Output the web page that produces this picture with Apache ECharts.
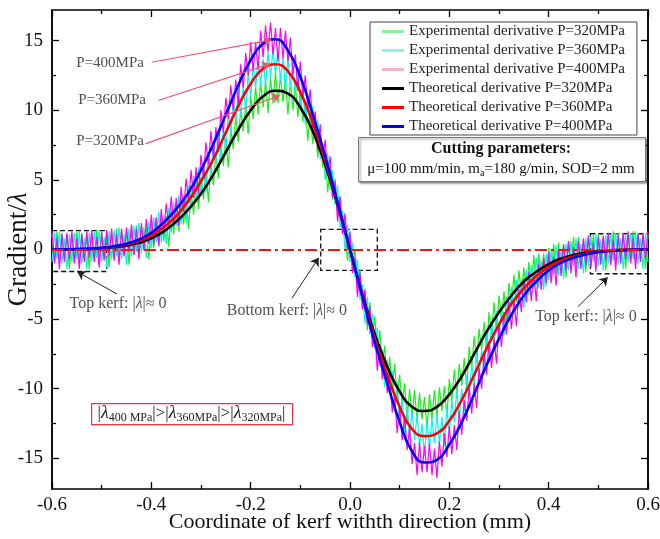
<!DOCTYPE html>
<html>
<head>
<meta charset="utf-8">
<script src="https://cdn.jsdelivr.net/npm/echarts@6/dist/echarts.min.js"></script>
<style>
html, body { margin: 0; padding: 0; background: #fff; }
#main { width: 660px; height: 539px; }
</style>
</head>
<body>
<div id="main"></div>
<script>
// theoretical derivative, sampled along the kerf width (mm)
var xTheory = [-0.6,-0.575,-0.55,-0.525,-0.5,-0.475,-0.45,-0.425,-0.4,-0.375,-0.35,-0.325,-0.3,-0.275,-0.25,-0.225,-0.2,-0.175,-0.15,-0.125,-0.1,-0.075,-0.05,-0.025,0,
  0.025,0.05,0.075,0.1,0.125,0.15,0.175,0.2,0.225,0.25,0.275,0.3,0.325,0.35,0.375,0.4,0.425,0.45,0.475,0.5,0.525,0.55,0.575,0.6]
var theory320 = [0,0.01,0.02,0.04,0.08,0.16,0.28,0.48,0.8,1.3,2.0,2.9,4.0,5.4,7.0,8.6,10.0,11.0,11.4,11.2,10.2,8.5,6.1,3.2,0,
  -3.2,-6.1,-8.4,-10.2,-11.3,-11.6,-11.3,-10.4,-9.1,-7.5,-5.9,-4.5,-3.3,-2.3,-1.6,-1.05,-0.65,-0.4,-0.22,-0.12,-0.06,-0.03,-0.01,0]
var theory360 = [0,0.01,0.02,0.05,0.1,0.2,0.35,0.6,1.0,1.6,2.4,3.5,4.9,6.5,8.4,10.3,11.9,13.0,13.3,12.8,11.3,9.1,6.4,3.3,0,
  -3.3,-6.4,-9.0,-11.3,-12.9,-13.4,-13.2,-12.3,-10.8,-9.0,-7.1,-5.4,-3.9,-2.8,-1.9,-1.25,-0.8,-0.5,-0.3,-0.16,-0.08,-0.04,-0.02,-0.01]
var theory400 = [0,0.01,0.03,0.06,0.12,0.24,0.42,0.72,1.2,1.95,2.9,4.1,5.7,7.6,9.7,11.8,13.6,14.8,15.1,14.3,12.4,9.7,6.7,3.4,0,
  -3.4,-6.7,-9.6,-12.4,-14.5,-15.3,-15.1,-14.0,-12.4,-10.4,-8.3,-6.4,-4.7,-3.3,-2.3,-1.5,-0.95,-0.6,-0.35,-0.2,-0.1,-0.05,-0.02,-0.01]

// experimental derivative (noisy measurements)
var xExp = [-0.6,-0.595,-0.59,-0.585,-0.58,-0.575,-0.57,-0.565,-0.56,-0.555,-0.55,-0.545,-0.54,-0.535,-0.53,-0.525,-0.52,-0.515,-0.51,-0.505,
  -0.5,-0.495,-0.49,-0.485,-0.48,-0.475,-0.47,-0.465,-0.46,-0.455,-0.45,-0.445,-0.44,-0.435,-0.43,-0.425,-0.42,-0.415,-0.41,-0.405,
  -0.4,-0.395,-0.39,-0.385,-0.38,-0.375,-0.37,-0.365,-0.36,-0.355,-0.35,-0.345,-0.34,-0.335,-0.33,-0.325,-0.32,-0.315,-0.31,-0.305,
  -0.3,-0.295,-0.29,-0.285,-0.28,-0.275,-0.27,-0.265,-0.26,-0.255,-0.25,-0.245,-0.24,-0.235,-0.23,-0.225,-0.22,-0.215,-0.21,-0.205,
  -0.2,-0.195,-0.19,-0.185,-0.18,-0.175,-0.17,-0.165,-0.16,-0.155,-0.15,-0.145,-0.14,-0.135,-0.13,-0.125,-0.12,-0.115,-0.11,-0.105,
  -0.1,-0.095,-0.09,-0.085,-0.08,-0.075,-0.07,-0.065,-0.06,-0.055,-0.05,-0.045,-0.04,-0.035,-0.03,-0.025,-0.02,-0.015,-0.01,-0.005,
  0,0.005,0.01,0.015,0.02,0.025,0.03,0.035,0.04,0.045,0.05,0.055,0.06,0.065,0.07,0.075,0.08,0.085,0.09,0.095,
  0.1,0.105,0.11,0.115,0.12,0.125,0.13,0.135,0.14,0.145,0.15,0.155,0.16,0.165,0.17,0.175,0.18,0.185,0.19,0.195,
  0.2,0.205,0.21,0.215,0.22,0.225,0.23,0.235,0.24,0.245,0.25,0.255,0.26,0.265,0.27,0.275,0.28,0.285,0.29,0.295,
  0.3,0.305,0.31,0.315,0.32,0.325,0.33,0.335,0.34,0.345,0.35,0.355,0.36,0.365,0.37,0.375,0.38,0.385,0.39,0.395,
  0.4,0.405,0.41,0.415,0.42,0.425,0.43,0.435,0.44,0.445,0.45,0.455,0.46,0.465,0.47,0.475,0.48,0.485,0.49,0.495,
  0.5,0.505,0.51,0.515,0.52,0.525,0.53,0.535,0.54,0.545,0.55,0.555,0.56,0.565,0.57,0.575,0.58,0.585,0.59,0.595,
  0.6]
var exp320 = [1.1,-0.8,1.3,-0.9,1.2,-0.7,1.0,-1.4,1.1,-0.8,1.3,-0.9,1.2,-0.7,1.0,-1.4,1.2,-0.7,1.4,-0.8,
  1.3,-0.6,1.1,-1.3,1.2,-0.6,1.5,-0.7,1.4,-0.4,1.3,-1.1,1.5,-0.4,1.7,-0.4,1.7,-0.1,1.7,-0.7,
  1.9,0.1,2.3,0.2,2.4,0.6,2.4,0.2,2.8,1.1,3.3,1.3,3.6,1.8,3.7,1.5,4.2,2.5,4.9,2.9,
  5.2,3.6,5.6,3.4,6.2,4.6,7.0,5.1,7.6,6.0,8.0,5.9,8.7,7.2,9.6,7.7,10.1,8.5,10.4,8.3,
  11.1,9.4,11.7,9.7,12.0,10.2,12.1,9.8,12.3,10.5,12.7,10.5,12.5,10.6,12.2,9.7,12.1,10.0,11.9,9.5,
  11.4,9.2,10.5,7.8,9.9,7.6,9.3,6.6,8.3,5.9,7.1,4.1,6.0,3.6,5.1,2.3,3.8,1.2,2.3,-0.8,
  1.1,-1.4,0.0,-2.8,-1.4,-3.9,-2.8,-5.8,-3.8,-6.3,-4.8,-7.5,-5.8,-8.2,-6.9,-9.8,-7.7,-9.9,-8.2,-10.7,
  -9.0,-11.1,-9.6,-12.3,-10.0,-12.0,-10.1,-12.3,-10.3,-12.2,-10.6,-12.9,-10.4,-12.2,-10.1,-12.1,-9.9,-11.6,-9.8,-12.0,
  -9.3,-10.9,-8.6,-10.5,-8.2,-9.8,-7.8,-9.9,-7.0,-8.6,-6.2,-8.1,-5.7,-7.2,-5.2,-7.3,-4.5,-6.1,-3.8,-5.7,
  -3.3,-5.0,-3.0,-5.2,-2.4,-4.1,-1.8,-3.8,-1.5,-3.2,-1.3,-3.6,-0.9,-2.7,-0.4,-2.5,-0.3,-2.1,-0.3,-2.6,
  0.1,-1.8,0.4,-1.7,0.5,-1.4,0.4,-2.0,0.6,-1.3,0.9,-1.3,0.9,-1.0,0.7,-1.6,0.9,-1.0,1.1,-1.0,
  1.1,-0.8,0.9,-1.5,1.0,-0.9,1.3,-0.9,1.2,-0.7,1.0,-1.4,1.1,-0.8,1.3,-0.9,1.2,-0.7,1.0,-1.4,
  1.1]
var exp360 = [-0.9,1.2,-0.7,1.3,-1.0,0.8,-1.4,1.1,-0.9,1.2,-0.7,1.3,-1.0,0.8,-1.4,1.2,-0.8,1.3,-0.6,1.4,
  -0.9,0.9,-1.3,1.3,-0.7,1.4,-0.5,1.6,-0.7,1.1,-1.1,1.5,-0.5,1.7,-0.2,1.9,-0.3,1.6,-0.6,2.0,
  0.1,2.3,0.5,2.7,0.5,2.4,0.4,3.0,1.2,3.4,1.7,3.9,1.8,3.9,1.9,4.6,2.9,5.3,3.6,5.9,
  3.9,6.0,4.1,7.0,5.3,7.7,6.2,8.6,6.6,8.8,7.0,9.9,8.3,10.7,9.2,11.6,9.6,11.7,9.9,12.7,
  11.0,13.3,11.6,13.9,11.8,13.7,11.7,14.2,12.3,14.4,12.6,14.5,12.1,13.8,11.5,13.8,11.6,13.4,11.2,12.9,
  10.3,11.7,9.0,11.1,8.6,10.3,7.9,9.3,6.5,7.7,5.0,6.9,4.3,5.7,3.2,4.6,1.6,2.8,-0.1,1.8,
  -0.9,0.5,-2.0,-0.7,-3.6,-2.5,-5.3,-3.4,-6.1,-4.6,-7.1,-5.6,-8.4,-7.2,-9.9,-7.9,-10.4,-8.7,-11.1,-9.5,
  -12.3,-10.8,-13.3,-11.2,-13.5,-11.6,-13.7,-11.8,-14.2,-12.5,-14.8,-12.3,-14.2,-12.1,-13.9,-11.8,-14.0,-12.0,-14.1,-11.4,
  -13.2,-10.8,-12.4,-10.1,-12.1,-10.0,-11.8,-9.0,-10.6,-8.2,-9.7,-7.3,-9.2,-7.1,-8.9,-6.0,-7.7,-5.2,-6.8,-4.4,
  -6.4,-4.3,-6.2,-3.4,-5.1,-2.7,-4.4,-2.2,-4.2,-2.2,-4.2,-1.5,-3.3,-1.1,-2.8,-0.6,-2.8,-0.8,-2.9,-0.3,
  -2.2,0.0,-1.8,0.3,-1.9,0.0,-2.1,0.4,-1.5,0.6,-1.2,0.8,-1.4,0.4,-1.7,0.8,-1.2,1.0,-0.9,1.1,
  -1.2,0.7,-1.5,1.0,-1.0,1.1,-0.8,1.2,-1.1,0.8,-1.4,1.1,-0.9,1.2,-0.7,1.3,-1.0,0.8,-1.4,1.1,
  -0.9]
var exp400 = [1.3,-1.0,0.8,-1.4,1.1,-0.9,1.2,-0.7,1.3,-1.0,0.8,-1.4,1.1,-0.9,1.3,-0.6,1.4,-0.9,0.9,-1.3,
  1.2,-0.8,1.4,-0.5,1.5,-0.8,1.1,-1.1,1.5,-0.5,1.6,-0.2,1.8,-0.4,1.5,-0.7,1.9,0.0,2.2,0.4,
  2.5,0.4,2.3,0.3,2.9,1.1,3.3,1.6,3.8,1.7,3.7,1.7,4.5,2.7,5.1,3.4,5.7,3.7,5.9,4.0,
  6.8,5.2,7.7,6.1,8.5,6.6,8.8,7.0,10.0,8.4,10.9,9.4,11.8,10.0,12.2,10.4,13.3,11.6,14.1,12.5,
  14.9,12.8,14.9,12.9,15.7,13.8,16.1,14.2,16.3,14.0,15.9,13.5,15.9,13.7,15.7,13.5,15.2,12.5,14.0,11.4,
  13.5,11.0,12.5,10.1,11.5,8.7,9.9,7.1,9.0,6.4,7.9,5.3,6.7,3.7,4.9,2.0,3.8,1.1,2.6,0.0,
  1.3,-1.7,-0.6,-3.4,-1.6,-4.3,-2.9,-5.4,-4.1,-7.0,-5.9,-8.7,-6.8,-9.3,-7.8,-10.3,-8.9,-11.7,-10.5,-13.2,
  -11.3,-13.7,-12.0,-14.4,-12.8,-15.4,-13.9,-16.2,-13.9,-16.0,-14.1,-16.0,-13.9,-16.2,-14.3,-16.4,-13.8,-15.6,-13.2,-14.9,
  -12.7,-14.7,-12.6,-14.4,-11.6,-13.3,-10.8,-12.3,-9.9,-11.8,-9.6,-11.4,-8.5,-10.0,-7.5,-9.0,-6.6,-8.5,-6.4,-8.2,
  -5.3,-7.0,-4.5,-6.1,-3.7,-5.7,-3.6,-5.5,-2.8,-4.5,-2.1,-3.8,-1.6,-3.7,-1.7,-3.7,-1.0,-2.9,-0.6,-2.4,
  -0.2,-2.4,-0.5,-2.6,0.0,-1.9,0.3,-1.5,0.6,-1.7,0.2,-2.0,0.6,-1.4,0.8,-1.1,1.0,-1.3,0.5,-1.6,
  0.9,-1.1,1.0,-0.8,1.2,-1.1,0.7,-1.5,1.0,-1.0,1.2,-0.7,1.3,-1.0,0.8,-1.4,1.1,-0.9,1.2,-0.7,
  1.3]

var yLabelValues = [-15, -10, -5, 0, 5, 10, 15]
var yMinorValues = [-12.5, -7.5, -2.5, 2.5, 7.5, 12.5]

// text notes in data coordinates
var noteX = [-0.467, -0.127, 0.475, -0.483, -0.479, -0.483]
var noteY = [-3.9, -4.4, -4.8, 13.42, 10.7, 7.82]
var noteText = [
  '{n|Top kerf: |}{i|λ}{n||≈ 0}',
  '{n|Bottom kerf: |}{i|λ}{n||≈ 0}',
  '{n|Top kerf:: |}{i|λ}{n||≈ 0}',
  '{p|P=400MPa}',
  '{p|P=360MPa}',
  '{p|P=320MPa}'
]
// black arrows from the notes to the kerf boxes  [x1, y1, x2, y2]
var kerfArrows = [[-0.469, -3.2, -0.549, -1.6], [-0.117, -3.5, -0.063, -0.6], [0.459, -4.1, 0.519, -2.0]]
// pink pointers from the P labels to the peaks
var peakPointers = [[-0.399, 13.45, -0.158, 15.05], [-0.386, 10.7, -0.161, 13.33], [-0.412, 7.59, -0.141, 11.06]]
// dashed boxes [x1, y1, x2, y2]
var kerfBoxes = [[-0.6, 1.36, -0.49, -1.58], [-0.059, 1.44, 0.055, -1.5], [0.484, 1.13, 0.6, -1.74]]

var serif = 'Liberation Serif, Times New Roman, serif'

function pairs (xs, ys) {
  return xs.map(function (x, i) { return [x, ys[i]] })
}

function curve (name, xs, ys, color, width, smooth) {
  return {
    name: name,
    type: 'line',
    data: pairs(xs, ys),
    symbol: 'none',
    smooth: smooth,
    lineStyle: { color: color, width: width },
    itemStyle: { color: color },
    emphasis: { disabled: true }
  }
}

var names = [
  'Experimental derivative P=320MPa',
  'Experimental derivative P=360MPa',
  'Experimental derivative P=400MPa',
  'Theoretical derivative P=320MPa',
  'Theoretical derivative P=360MPa',
  'Theoretical derivative P=400MPa'
]
var legendColors = ['#86f29a', '#8ff3ea', '#f9b3c3', '#000000', '#ff0000', '#0000ff']

var markLines = [{ yAxis: 0, lineStyle: { color: '#ff1010', width: 2, type: [12, 4, 3, 4] } }]
kerfArrows.forEach(function (a) {
  markLines.push([
    { coord: [a[0], a[1]], lineStyle: { color: '#222', width: 1, type: 'solid' } },
    { coord: [a[2], a[3]], symbol: 'arrow' }
  ])
})
peakPointers.forEach(function (a, i) {
  markLines.push([
    { coord: [a[0], a[1]], lineStyle: { color: '#f2556c', width: 1.2, type: 'solid', curveness: [0.06, 0.12, -0.12][i] } },
    { coord: [a[2], a[3]], symbol: 'arrow' }
  ])
})

var boxAreas = kerfBoxes.map(function (b) {
  return [{ coord: [b[0], b[1]] }, { coord: [b[2], b[3]] }]
})

function xAxisDef (pos, showLabel) {
  return {
    type: 'value', position: pos, min: -0.6, max: 0.6, interval: 0.2,
    name: showLabel ? 'Coordinate of kerf withth direction (mm)' : '',
    nameLocation: 'middle', nameGap: 22, nameMoveOverlap: false,
    nameTextStyle: { fontFamily: serif, fontSize: 22, color: '#111' },
    axisLine: { onZero: false, lineStyle: { color: '#000', width: 1.5 } },
    axisTick: { inside: true, length: 7, lineStyle: { color: '#000', width: 1.3 } },
    minorTick: { show: true, splitNumber: 2, length: 4, lineStyle: { color: '#000', width: 1.3 } },
    axisLabel: {
      show: showLabel, margin: 7, fontFamily: serif, fontSize: 19, color: '#111',
      formatter: function (v) { return Math.abs(v) < 1e-9 ? '0.0' : v.toFixed(1) }
    },
    splitLine: { show: false }
  }
}

function yAxisDef (pos, values, len, showLabel) {
  return {
    type: 'value', position: pos, min: -17.2, max: 17.2,
    name: showLabel ? 'Gradient/{i|λ}' : '',
    nameLocation: 'middle', nameGap: 20, nameRotate: 90, nameMoveOverlap: false,
    nameTextStyle: { fontFamily: serif, fontSize: 27, color: '#111', rich: { i: { fontFamily: serif, fontSize: 27, fontStyle: 'italic', color: '#111' } } },
    axisLine: { onZero: false, lineStyle: { color: '#000', width: 1.5 } },
    axisTick: { inside: true, length: len, customValues: values, lineStyle: { color: '#000', width: 1.3 } },
    axisLabel: { show: showLabel, margin: 9, customValues: values, fontFamily: serif, fontSize: 19, color: '#111' },
    splitLine: { show: false }
  }
}

var chart = echarts.init(document.getElementById('main'))
chart.setOption({
  animation: false,
  backgroundColor: '#fff',
  grid: { left: 52, right: 12, top: 10, bottom: 50, outerBoundsMode: 'none', containLabel: false },
  legend: {
    orient: 'vertical', left: 370, top: 22,
    icon: 'rect', itemWidth: 22, itemHeight: 3, itemGap: 4,
    padding: [2, 12, 1, 12],
    borderColor: '#444', borderWidth: 1, backgroundColor: '#fff',
    textStyle: { fontFamily: serif, fontSize: 15, color: '#222' },
    data: names.map(function (n, i) {
      return { name: n, itemStyle: { color: legendColors[i] } }
    })
  },
  xAxis: [xAxisDef('bottom', true), xAxisDef('top', false)],
  yAxis: [
    yAxisDef('left', yLabelValues, 7, true),
    yAxisDef('left', yMinorValues, 4, false),
    yAxisDef('right', yLabelValues, 7, false),
    yAxisDef('right', yMinorValues, 4, false)
  ],
  series: [
    curve(names[0], xExp, exp320, '#19f019', 1.2, false),
    curve(names[1], xExp, exp360, '#00f5f5', 1.2, false),
    curve(names[2], xExp, exp400, '#ff00ff', 1.2, false),
    curve(names[3], xTheory, theory320, '#000000', 2.6, true),
    curve(names[4], xTheory, theory360, '#ff0000', 2.6, true),
    curve(names[5], xTheory, theory400, '#0000ff', 2.6, true),
    {
      name: 'notes',
      type: 'scatter',
      symbolSize: 0,
      silent: true,
      data: pairs(noteX, noteY),
      label: {
        show: true, position: 'inside',
        formatter: function (p) { return noteText[p.dataIndex] },
        rich: {
          n: { fontFamily: serif, fontSize: 16, color: '#222' },
          i: { fontFamily: serif, fontSize: 16, fontStyle: 'italic', color: '#222' },
          p: { fontFamily: serif, fontSize: 15, color: '#222' }
        }
      },
      markLine: { silent: true, symbol: ['none', 'none'], symbolSize: 8, label: { show: false }, data: markLines },
      markArea: {
        silent: true,
        itemStyle: { color: 'rgba(0,0,0,0)', borderColor: '#111', borderWidth: 1.3, borderType: [5, 3] },
        data: boxAreas
      }
    }
  ],
  graphic: [
    {
      type: 'rect', left: 358, top: 137, z: 100,
      shape: { width: 287, height: 44 },
      style: { fill: '#fff', stroke: '#777', lineWidth: 1, shadowBlur: 2, shadowOffsetX: 1.5, shadowOffsetY: 1.5, shadowColor: 'rgba(0,0,0,0.45)' }
    },
    {
      type: 'text', x: 501, y: 149, z: 101,
      style: { text: 'Cutting parameters:', font: 'bold 16px ' + serif, fill: '#111', align: 'center', verticalAlign: 'middle' }
    },
    {
      type: 'text', x: 501, y: 169, z: 101,
      style: {
        text: '{n|μ=100 mm/min, m}{s|a}{n|=180 g/min, SOD=2 mm}',
        align: 'center', verticalAlign: 'middle',
        rich: {
          n: { fontFamily: serif, fontSize: 15, fill: '#111', lineHeight: 18 },
          s: { fontFamily: serif, fontSize: 10, fill: '#111', verticalAlign: 'bottom', lineHeight: 12 }
        }
      }
    },
    {
      type: 'rect', left: 91, top: 403, z: 100,
      shape: { width: 201, height: 21 },
      style: { fill: '#fff', stroke: '#ee3344', lineWidth: 1.2 }
    },
    {
      type: 'text', x: 191.5, y: 413.5, z: 101,
      style: {
        text: '{n||}{l|λ}{s|400 MPa}{n||>|}{l|λ}{s|360MPa}{n||>|}{l|λ}{s|320MPa}{n||}',
        align: 'center', verticalAlign: 'middle',
        rich: {
          n: { fontFamily: serif, fontSize: 17, fill: '#222', lineHeight: 20 },
          l: { fontFamily: serif, fontSize: 18, fontStyle: 'italic', fill: '#222', lineHeight: 20 },
          s: { fontFamily: serif, fontSize: 12, fill: '#222', verticalAlign: 'bottom', lineHeight: 13 }
        }
      }
    }
  ]
})
window.onresize = chart.resize
</script>
</body>
</html>
